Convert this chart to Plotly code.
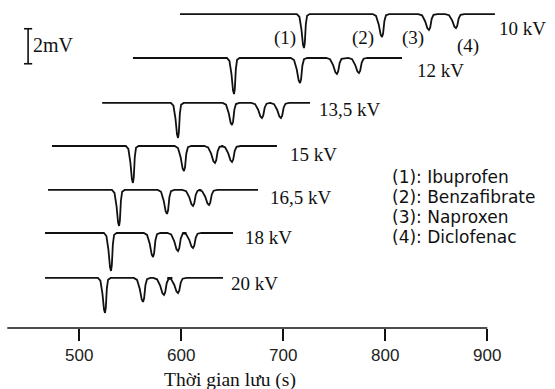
import plotly.graph_objects as go

# ---------------- data ----------------
voltages = ["10 kV", "12 kV", "13,5 kV", "15 kV", "16,5 kV", "18 kV", "20 kV"]
baseline_mV = [17.94, 15.43, 12.86, 10.40, 7.89, 5.43, 2.86]
start_s = [598.7, 552.6, 522.4, 473.2, 469.3, 466.4, 466.4]
end_s = [907.5, 816.4, 726.2, 693.8, 675.2, 650.7, 640.9]
peak1_s = [720.3, 651.7, 596.8, 552.6, 539.0, 531.1, 525.2]
peak2_s = [796.8, 716.4, 649.7, 602.6, 586.0, 572.3, 562.5]
peak3_s = [842.8, 752.6, 679.1, 633.0, 611.5, 596.8, 583.0]
peak4_s = [869.3, 774.2, 697.7, 649.7, 627.2, 611.5, 596.8]
depth1_mV = [1.94, 2.06, 2.00, 2.11, 2.06, 2.17, 2.00]
depth2_mV = [1.31, 1.43, 1.26, 1.43, 1.37, 1.37, 1.37]
depth3_mV = [0.91, 0.91, 0.86, 0.97, 0.91, 1.03, 0.97]
depth4_mV = [0.80, 0.86, 0.86, 0.91, 0.86, 0.86, 0.86]

peak_names = ["(1)", "(2)", "(3)", "(4)"]
compounds = ["(1): Ibuprofen", "(2): Benzafibrate", "(3): Naproxen", "(4): Diclofenac"]
tick_vals = [500, 600, 700, 800, 900]
x_title = "Thời gian lưu (s)"
scale_label = "2mV"
scale_mV = 2.0

# ---------------- layout helpers (styles / positions) ----------------
X_RANGE = [422.25, 966.4]
Y_RANGE = [0, 18.743]
AXIS_START = 429.4
SERIF = "Liberation Serif"
SANS = "Liberation Sans"
WIDE_SANS = "DejaVu Sans"
INK = "#111111"

# generic peak outline: (time offset s, fraction of depth)
TEMPLATE = [(-7, 0), (-4.5, 0.08), (-2.5, 0.45), (-1, 0.9), (0, 1),
            (0.8, 0.85), (1.8, 0.3), (3, 0.05), (5.5, 0)]
WIDTH_SCALE = [1.0, 1.3, 1.5, 1.5]

fig = go.Figure()
for i, v in enumerate(voltages):
    b = baseline_mV[i]
    xs = [start_s[i]]
    ys = [b]
    peaks = [(peak1_s[i], depth1_mV[i]), (peak2_s[i], depth2_mV[i]),
             (peak3_s[i], depth3_mV[i]), (peak4_s[i], depth4_mV[i])]
    for k, (t, d) in enumerate(peaks):
        for off, fr in TEMPLATE:
            xs.append(t + off * WIDTH_SCALE[k])
            ys.append(b - fr * d)
    xs.append(end_s[i])
    ys.append(b)
    fig.add_trace(go.Scatter(x=xs, y=ys, mode="lines",
                             line=dict(color=INK, width=1.8),
                             hoverinfo="skip", showlegend=False))

annotations = []
# voltage labels
volt_label_x = [909.5, 829.4, 733.2, 704.6, 684.9, 660.4, 646.8]
volt_label_y = [17.14, 14.74, 12.46, 9.89, 7.43, 5.2, 2.57]
for i, v in enumerate(voltages):
    annotations.append(dict(x=volt_label_x[i], y=volt_label_y[i], text=v,
                            xanchor="left", yanchor="middle", showarrow=False,
                            font=dict(family=SERIF, size=19, color=INK)))
# peak number labels on top trace
pn_x = [702.0, 778.1, 827.1, 881.1]
pn_y = [16.57, 16.57, 16.57, 16.11]
for k in range(4):
    annotations.append(dict(x=pn_x[k], y=pn_y[k], text=peak_names[k],
                            xanchor="center", yanchor="middle", showarrow=False,
                            font=dict(family=SERIF, size=19, color=INK)))
# compound legend
leg_y = [8.63, 7.51, 6.34, 5.20]
for k in range(4):
    annotations.append(dict(x=804.6, y=leg_y[k], text=compounds[k],
                            xanchor="left", yanchor="middle", showarrow=False,
                            font=dict(family=WIDE_SANS, size=17, color=INK)))
# scale bar label
annotations.append(dict(x=452.6, y=16.17, text=scale_label, xanchor="left",
                        yanchor="middle", showarrow=False,
                        font=dict(family=SERIF, size=20, color=INK)))
# x title
annotations.append(dict(x=647.7, xref="x", y=-0.158, yref="paper", text=x_title,
                        xanchor="center", yanchor="middle", showarrow=False,
                        font=dict(family=SERIF, size=19.5, color=INK)))

sb_x, sb_top = 449.8, 17.1
shapes = [
    dict(type="line", xref="x", yref="paper", x0=AXIS_START, x1=900, y0=0, y1=0,
         line=dict(color=INK, width=1.6)),
    dict(type="line", xref="x", yref="y", x0=sb_x, x1=sb_x, y0=sb_top - scale_mV, y1=sb_top,
         line=dict(color=INK, width=1.6)),
    dict(type="line", xref="x", yref="y", x0=sb_x - 4, x1=sb_x + 4, y0=sb_top, y1=sb_top,
         line=dict(color=INK, width=1.6)),
    dict(type="line", xref="x", yref="y", x0=sb_x - 4, x1=sb_x + 4, y0=sb_top - scale_mV,
         y1=sb_top - scale_mV, line=dict(color=INK, width=1.6)),
]

fig.update_layout(
    width=555, height=389,
    margin=dict(l=0, r=0, t=0, b=61),
    paper_bgcolor="white", plot_bgcolor="white",
    xaxis=dict(range=X_RANGE, tickvals=tick_vals, ticks="outside", ticklen=12,
               tickwidth=1.6, tickcolor=INK, showline=False, showgrid=False,
               zeroline=False, tickfont=dict(family=SANS, size=17, color="#222222")),
    yaxis=dict(range=Y_RANGE, visible=False, showgrid=False, zeroline=False),
    annotations=annotations, shapes=shapes,
)
fig.write_html("out.html", config={"displayModeBar": False},
               post_script="document.body.style.margin='0';")
